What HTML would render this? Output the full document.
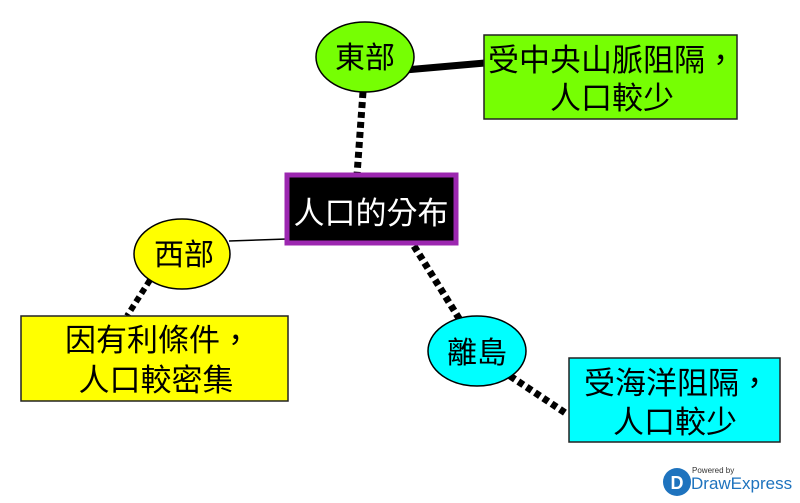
<!DOCTYPE html>
<html><head><meta charset="utf-8"><style>
body{margin:0;background:#fff;width:800px;height:498px;overflow:hidden}
text{font-family:"Liberation Sans","Noto Sans CJK TC",sans-serif}
</style></head><body>
<svg width="800" height="498" xmlns="http://www.w3.org/2000/svg">
<g stroke="#000" fill="none">
<line x1="405" y1="70" x2="485" y2="63" stroke-width="7"/>
<line x1="363" y1="92" x2="357" y2="175" stroke-width="7" stroke-dasharray="6,4"/>
<line x1="229" y1="241" x2="287" y2="239" stroke-width="1.5"/>
<line x1="150" y1="280" x2="127" y2="316" stroke-width="6" stroke-dasharray="6,4"/>
<line x1="414" y1="246" x2="460" y2="320" stroke-width="7" stroke-dasharray="6,4"/>
<line x1="510" y1="376" x2="567" y2="414" stroke-width="7" stroke-dasharray="6,4"/>
</g>
<rect x="287" y="175" width="169" height="68" fill="#000" stroke="#9c27b0" stroke-width="5"/>
<text x="371" y="224" font-size="31" fill="#fff" text-anchor="middle">人口的分布</text>
<ellipse cx="365" cy="57" rx="49" ry="35" fill="#76ff03" stroke="#000" stroke-width="1.5"/>
<text x="365" y="68" font-size="30" text-anchor="middle">東部</text>
<rect x="484" y="35" width="253" height="84" fill="#76ff03" stroke="#222" stroke-width="1.5"/>
<text x="612" y="71" font-size="31" text-anchor="middle">受中央山脈阻隔，</text>
<text x="612" y="109" font-size="31" text-anchor="middle">人口較少</text>
<ellipse cx="182" cy="254" rx="48" ry="35" fill="#ffff00" stroke="#000" stroke-width="1.5"/>
<text x="184" y="265" font-size="30" text-anchor="middle">西部</text>
<rect x="21" y="316" width="267" height="85" fill="#ffff00" stroke="#222" stroke-width="1.5"/>
<text x="158" y="351" font-size="31" text-anchor="middle">因有利條件，</text>
<text x="156" y="391" font-size="31" text-anchor="middle">人口較密集</text>
<ellipse cx="477" cy="351" rx="49" ry="35" fill="#00ffff" stroke="#000" stroke-width="1.5"/>
<text x="477" y="363" font-size="30" text-anchor="middle">離島</text>
<rect x="569" y="358" width="211" height="84" fill="#00ffff" stroke="#222" stroke-width="1.5"/>
<text x="677" y="394" font-size="31" text-anchor="middle">受海洋阻隔，</text>
<text x="675" y="433" font-size="31" text-anchor="middle">人口較少</text>
<circle cx="677" cy="482" r="14" fill="#1e73be"/>
<text x="677" y="489" font-size="18" fill="#fff" text-anchor="middle" font-weight="bold">D</text>
<text x="692" y="473" font-size="8" fill="#333">Powered by</text>
<text x="691" y="489" font-size="17" fill="#1e73be">DrawExpress</text>
</svg>
</body></html>
